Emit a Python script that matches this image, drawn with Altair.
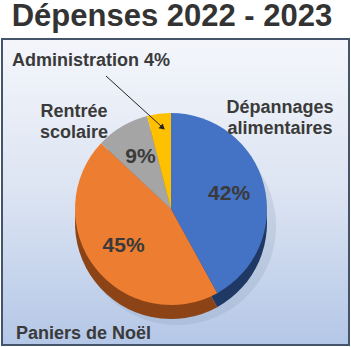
import altair as alt
import pandas as pd

# ---- data ----
categories = ["Dépannages alimentaires", "Paniers de Noël", "Rentrée scolaire", "Administration"]
values = [42, 45, 9, 4]
top_colors = ["#4472C4", "#ED7D31", "#A5A5A5", "#FFC000"]
side_colors = ["#1F3864", "#8C4416", "#6E6E6E", "#A67C00"]
title_text = "Dépenses 2022 - 2023"

df = pd.DataFrame({"cat": categories, "val": values})

W, H = 351, 347
FONT = "Liberation Sans, Arial, sans-serif"
CX, CY, R, DEPTH = 171, 209, 96, 14

base = alt.Chart(df).transform_window(idx="row_number()")

one = alt.Chart(pd.DataFrame({"k": [0]}))

# background box with gradient
bg = one.mark_rect(
    fill=alt.LinearGradient(
        gradient="linear",
        stops=[
            alt.GradientStop(color="#F4F6FB", offset=0),
            alt.GradientStop(color="#DCE4F2", offset=0.5),
            alt.GradientStop(color="#B4C7E7", offset=1),
        ],
        x1=0, x2=0, y1=0, y2=1,
    ),
    stroke="#44546A",
    strokeWidth=2,
).encode(x=alt.value(2), x2=alt.value(349), y=alt.value(39), y2=alt.value(345))

title = one.mark_text(
    text=title_text, font=FONT, fontSize=31, fontWeight="bold",
    color="#333333", align="center", baseline="alphabetic",
).encode(x=alt.value(172), y=alt.value(26))

theta = alt.Theta("val:Q", stack=True)
order = alt.Order("idx:Q", sort="ascending")

shadow = base.mark_arc(radius=R + 3, color="#7F8FA8", opacity=0.2).encode(
    theta=theta, order=order,
    x=alt.value(CX + 6), y=alt.value(CY + DEPTH + 3),
)

side = base.mark_arc(radius=R).encode(
    theta=theta, order=order,
    color=alt.Color("cat:N", scale=alt.Scale(domain=categories, range=side_colors), legend=None),
    x=alt.value(CX), y=alt.value(CY + DEPTH),
)

top = base.mark_arc(radius=R).encode(
    theta=theta, order=order,
    color=alt.Color("cat:N", scale=alt.Scale(domain=categories, range=top_colors), legend=None),
    x=alt.value(CX), y=alt.value(CY),
)

inner = base.transform_calculate(
    lab="datum.val >= 5 ? datum.val + '%' : ''"
).mark_text(
    radius=60, font=FONT, fontSize=21, fontWeight="bold", color="#3A3A3A",
).encode(
    theta=theta, order=order, text="lab:N",
    x=alt.value(CX), y=alt.value(CY),
)

def outer(i, x, y, align="center", line_break=None, with_value=False):
    c = base.transform_filter(alt.datum.cat == categories[i])
    if with_value:
        c = c.transform_calculate(lab="datum.cat + ' ' + datum.val + '%'")
    else:
        c = c.transform_calculate(lab="datum.cat")
    kw = dict(font=FONT, fontSize=18, fontWeight="bold", color="#3A3A3A",
              align=align, baseline="alphabetic", lineHeight=21)
    if line_break:
        kw["lineBreak"] = line_break
    return c.mark_text(**kw).encode(text="lab:N", x=alt.value(x), y=alt.value(y))

lab_dep = outer(0, 280, 113, line_break=" ")
lab_pan = outer(1, 16, 339, align="left")
lab_ren = outer(2, 74, 117, line_break=" ")
lab_adm = outer(3, 12, 66, align="left", with_value=True)

arrow_line = one.mark_rule(color="#222222", strokeWidth=1).encode(
    x=alt.value(106), y=alt.value(76), x2=alt.value(161), y2=alt.value(126)
)
arrow_head = one.mark_point(
    shape="triangle", filled=True, color="#222222", size=40, angle=132, opacity=1
).encode(x=alt.value(162), y=alt.value(127))

chart = alt.layer(
    bg, title, shadow, side, top, inner,
    lab_dep, lab_pan, lab_ren, lab_adm, arrow_line, arrow_head,
).resolve_scale(color="independent").properties(
    width=W, height=H, autosize=alt.AutoSizeParams(type="none"), padding=0,
).configure_view(stroke="transparent")

chart.save("out.html", embed_options={"renderer": "svg", "actions": False})
